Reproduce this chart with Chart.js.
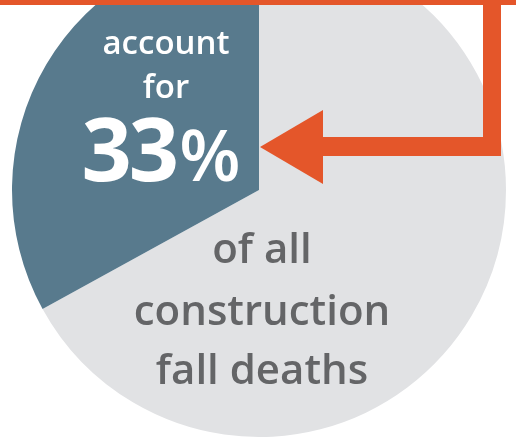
<!DOCTYPE html>
<html>
<head>
<meta charset="utf-8">
<script src="https://cdn.jsdelivr.net/npm/chart.js@4/dist/chart.umd.min.js"></script>
<style>
  html, body { margin: 0; padding: 0; background: #ffffff; }
  body { width: 516px; height: 440px; position: relative; overflow: hidden; }
  #c { position: absolute; left: 0; top: -60px; }
  .t { position: absolute; white-space: nowrap; text-align: center; font-family: "Open Sans", sans-serif; font-weight: 600; }
  .w { color: #ffffff; }
  .g { color: #646567; }
</style>
</head>
<body>
<canvas id="c" width="516" height="500"></canvas>
<div class="t w" style="left:66px;width:200px;top:22px;font-size:33px;line-height:40px;">account</div>
<div class="t w" style="left:66px;width:200px;top:66px;font-size:33px;line-height:40px;">for</div>
<div class="t w" style="left:41px;width:240px;top:97px;font-size:88px;line-height:100px;font-weight:700;letter-spacing:-3px;">33<span style="font-size:71px;font-weight:600;letter-spacing:0;margin-left:3px">%</span></div>
<div class="t g" style="left:112px;width:300px;top:219px;font-size:42px;line-height:56px;">of all</div>
<div class="t g" style="left:112px;width:300px;top:281px;font-size:42px;line-height:56px;">construction</div>
<div class="t g" style="left:112px;width:300px;top:340px;font-size:42px;line-height:56px;">fall deaths</div>
<script>
const categories = ["Other construction fall deaths", "This group"];
const shareValues = [67, 33];
const sliceColors = ["#e1e2e4", "#587a8d"];

const arrowPlugin = {
  id: 'arrow',
  afterDraw(chart) {
    const ctx = chart.ctx;
    const oy = 60;
    ctx.save();
    ctx.fillStyle = '#e4562a';
    ctx.fillRect(0, oy + 0, 516, 5);
    ctx.fillRect(483, oy + 0, 18, 156);
    ctx.fillRect(320, oy + 137, 181, 19);
    ctx.beginPath();
    ctx.moveTo(260, oy + 147);
    ctx.lineTo(323, oy + 110);
    ctx.lineTo(323, oy + 184);
    ctx.closePath();
    ctx.fill();
    ctx.restore();
  }
};

new Chart(document.getElementById('c'), {
  type: 'pie',
  data: {
    labels: categories,
    datasets: [{ data: shareValues, backgroundColor: sliceColors, borderWidth: 0 }]
  },
  options: {
    responsive: false,
    animation: false,
    layout: { padding: { left: 12, right: 10, top: 3, bottom: 3 } },
    plugins: { legend: { display: false }, tooltip: { enabled: false } }
  },
  plugins: [arrowPlugin]
});
</script>
</body>
</html>
